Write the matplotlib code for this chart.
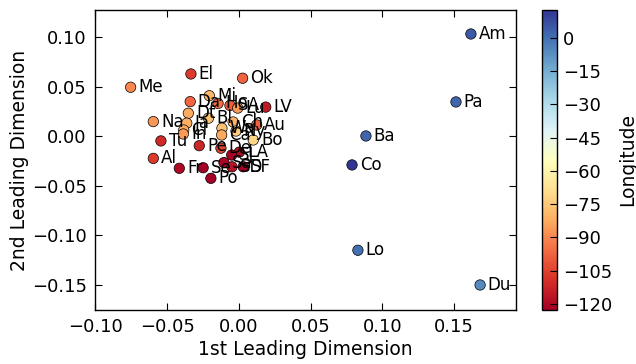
import matplotlib
matplotlib.use("Agg")
import matplotlib.pyplot as plt
import numpy as np

# City abbreviations, positions on the two leading dimensions, and longitude
labels = ["Am", "Pa", "Ba", "Co", "Lo", "Du",
          "Me", "El", "Ok", "Mi", "Da", "Ho", "SA", "Lu", "LV",
          "Dt", "Bl", "Na", "Ja", "Ch", "Au", "Wa", "Ny", "Cl", "In", "Ca",
          "Bo", "Tu", "Pe", "De", "LA", "SJ", "Al", "Fr", "Se", "Sa", "SD",
          "SF", "Po"]
dim1 = [0.1616, 0.1512, 0.0885, 0.0788, 0.0829, 0.1680,
        -0.0754, -0.0334, 0.0026, -0.0206, -0.0339, -0.0145, -0.0062, -0.0008, 0.0187,
        -0.0352, -0.0212, -0.0596, -0.0363, -0.0040, 0.0124, -0.0118, -0.0020, -0.0384, -0.0387, -0.0120,
        0.0100, -0.0543, -0.0276, -0.0125, 0.0003, -0.0050, -0.0596, -0.0415, -0.0249, -0.0104, -0.0048,
        0.0030, -0.0195]
dim2 = [0.1030, 0.0345, 0.0002, -0.0290, -0.1150, -0.1500,
        0.0493, 0.0627, 0.0584, 0.0408, 0.0348, 0.0330, 0.0310, 0.0283, 0.0293,
        0.0231, 0.0181, 0.0147, 0.0131, 0.0143, 0.0113, 0.0080, 0.0052, 0.0062, 0.0022, 0.0012,
        -0.0038, -0.0048, -0.0096, -0.0121, -0.0161, -0.0190, -0.0224, -0.0324, -0.0318, -0.0266, -0.0309,
        -0.0308, -0.0425]
longitude = [4.90, 2.35, 2.17, 12.57, -0.13, -6.26,
             -90.05, -106.44, -97.52, -80.19, -96.80, -95.37, -98.49, -85.76, -115.14,
             -83.05, -76.61, -86.78, -81.66, -80.84, -97.74, -77.04, -74.01, -81.69, -86.16, -82.99,
             -71.06, -110.97, -112.07, -104.99, -118.24, -121.89, -106.65, -119.79, -122.33, -121.49, -117.16,
             -122.42, -122.68]

xticks = [-0.10, -0.05, 0.00, 0.05, 0.10, 0.15]
yticks = [-0.15, -0.10, -0.05, 0.00, 0.05, 0.10]
cticks = [0, -15, -30, -45, -60, -75, -90, -105, -120]

plt.rcParams["font.family"] = ["DejaVu Sans"]
plt.rcParams["xtick.direction"] = "in"
plt.rcParams["ytick.direction"] = "in"

fig = plt.figure(figsize=(6.36, 3.64), dpi=100)
ax = fig.add_axes([0.1494, 0.1484, 0.6619, 0.8242])
cax = fig.add_axes([0.8527, 0.1484, 0.0236, 0.8242])

sc = ax.scatter(dim1, dim2, c=longitude, cmap="RdYlBu",
                vmin=min(longitude), vmax=max(longitude),
                s=56, edgecolors="black", linewidths=0.5, zorder=3)

for name, x, y in zip(labels, dim1, dim2):
    ax.annotate(name, (x, y), xytext=(5.5, 0), textcoords="offset points",
                va="center", ha="left", fontsize=12, zorder=4)

ax.set_xlim(-0.1002, 0.193)
ax.set_ylim(-0.1752, 0.1272)
ax.set_xticks(xticks)
ax.set_yticks(yticks)
ax.set_xticklabels([f"{t:.2f}".replace("-", "\u2212") for t in xticks])
ax.set_yticklabels([f"{t:.2f}".replace("-", "\u2212") for t in yticks])
ax.tick_params(axis="both", which="major", labelsize=13, length=5, width=0.8,
               top=True, right=True, pad=6)
ax.set_xlabel("1st Leading Dimension", fontsize=13.5, labelpad=3)
ax.set_ylabel("2nd Leading Dimension", fontsize=13.5, labelpad=2)
for sp in ax.spines.values():
    sp.set_linewidth(1.0)

cb = fig.colorbar(sc, cax=cax, ticks=cticks)
cb.ax.tick_params(labelsize=13, direction="in", length=5, width=0.8, pad=4)
cb.set_label("Longitude", fontsize=13.5, labelpad=4)
cb.outline.set_linewidth(1.0)

fig.savefig("out.png", dpi=100)
